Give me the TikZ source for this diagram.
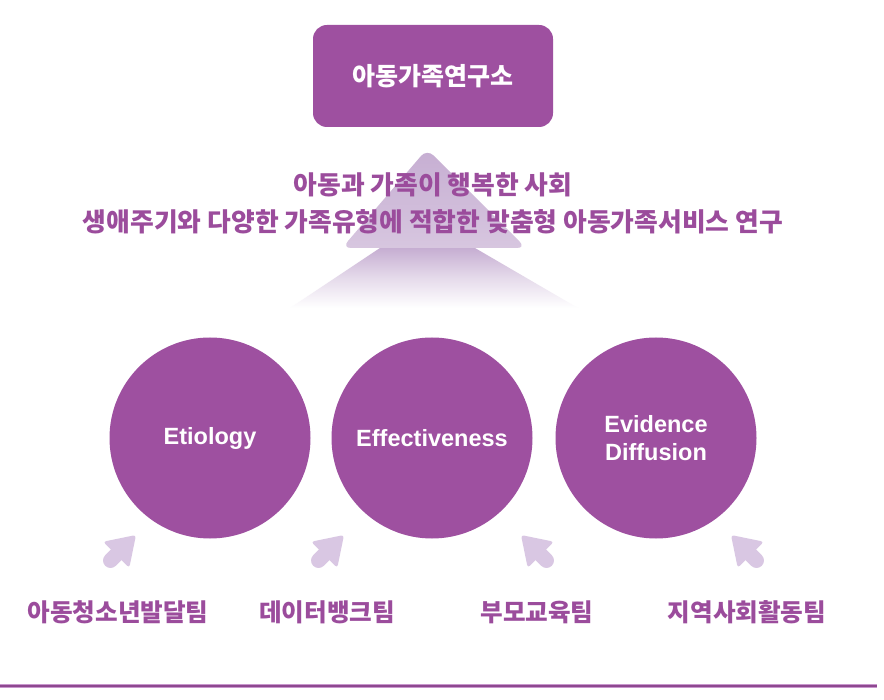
\documentclass[tikz,border=0pt]{standalone}
\usepackage{fontspec}
\newfontfamily\kr{Noto Sans CJK KR}
\newfontfamily\en{Liberation Sans}
\definecolor{mainpurple}{RGB}{158,80,160}
\definecolor{textpurple}{RGB}{155,76,156}
\definecolor{arrowlight}{RGB}{217,199,227}
\definecolor{bigtop}{RGB}{198,174,210}
\definecolor{linelight}{RGB}{200,150,205}
\tikzset{
  circ/.style={circle, fill=mainpurple, minimum size=201pt, inner sep=0pt, text=white, font=\en\bfseries\fontsize{23.5}{28}\selectfont, align=center},
  title/.style={text=textpurple, font=\kr\bfseries\fontsize{25.8}{30}\selectfont, inner sep=0pt},
  teamlabel/.style={text=textpurple, font=\kr\bfseries\fontsize{24.6}{28}\selectfont, inner sep=0pt},
  topbox/.style={rounded corners=14pt, fill=mainpurple, minimum width=240pt, minimum height=102pt, text=white, font=\kr\bfseries\fontsize{25}{28}\selectfont},
}
\begin{document}
\begin{tikzpicture}[x=1pt,y=-1pt]
\useasboundingbox (0,0) rectangle (884,700);
\fill[white] (0,0) rectangle (884,700);
% big faded arrow
\shade[top color=bigtop, bottom color=white, middle color=bigtop!45!white]
  (380,248) -- (475,248) -- (578,308) -- (290,308) -- cycle;
\shade[top color=bigtop, bottom color=bigtop!70!white, rounded corners=9pt]
  (427,149) -- (526,248) -- (342,248) -- cycle;
% top box
\node[topbox] (inst) at (433,76) {아동가족연구소};
% titles
\node[title] (t1) at (433,185) {아동과 가족이 행복한 사회};
\node[title] (t2) at (433,222) {생애주기와 다양한 가족유형에 적합한 맞춤형 아동가족서비스 연구};
% circles
\node[circ] (c1) at (210,438) {Etiology};
\node[circ] (c2) at (432,438) {Effectiveness};
\node[circ] (c3) at (656,438) {Evidence\\Diffusion};
% small arrows
\foreach \px/\py/\ang in {136/535/45, 344/535/45, 521/535/135, 731/535/135}{
  \begin{scope}[shift={(\px,\py)}, rotate=\ang]
    \fill[arrowlight, rounded corners=3pt] (0,0) -- (-28,18.5) -- (-28,-18.5) -- cycle;
    \draw[arrowlight, line width=15pt, line cap=round] (-20,0) -- (-36,0);
  \end{scope}
}
% team labels
\node[teamlabel] (l1) at (118,612) {아동청소년발달팀};
\node[teamlabel] (l2) at (327,612) {데이터뱅크팀};
\node[teamlabel] (l3) at (537,612) {부모교육팀};
\node[teamlabel] (l4) at (747,612) {지역사회활동팀};
% bottom line
\coordinate (bl) at (0,686);
\coordinate (br) at (877,686);
\draw[linelight, line width=4.5pt] (bl) -- (br);
\draw[mainpurple!90!black, line width=2pt] (bl) -- (br);
\end{tikzpicture}
\end{document}
